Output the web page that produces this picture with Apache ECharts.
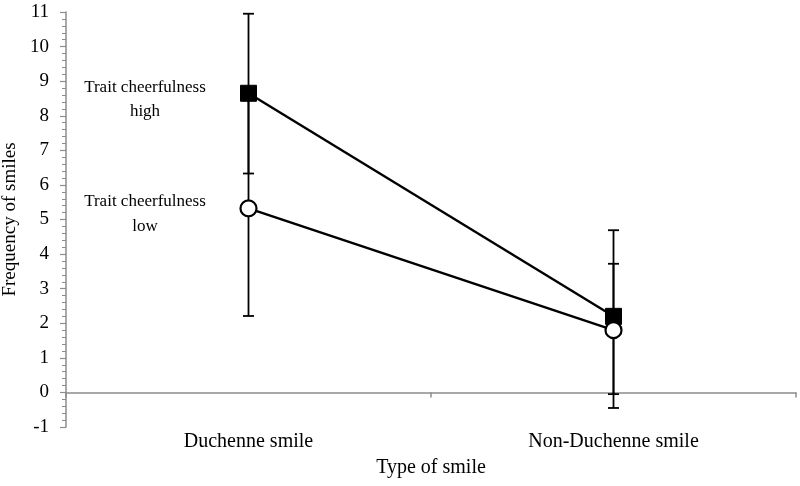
<!DOCTYPE html>
<html>
<head>
<meta charset="utf-8">
<script src="https://cdn.jsdelivr.net/npm/echarts@6/dist/echarts.min.js"></script>
<style>
  html, body { margin: 0; padding: 0; background: #fff; }
  #chart_container { width: 800px; height: 486px; }
</style>
</head>
<body>
<div id="chart_container"></div>
<script>
  // x categories
  var categories = ['Duchenne smile', 'Non-Duchenne smile']
  var yTicks = [-1, 11]
  // trait cheerfulness high
  var highMeans = [8.65, 2.2]
  var highUpper = [10.95, 4.69]
  var highLower = [6.33, -0.45]
  // trait cheerfulness low
  var lowMeans = [5.32, 1.8]
  var lowUpper = [8.45, 3.72]
  var lowLower = [2.21, -0.05]
  var labelHigh = 'Trait cheerfulness\nhigh'
  var labelLow = 'Trait cheerfulness\nlow'

  var serif = 'Liberation Serif'
  var gray = '#8c8c8c'

  function errData (lower, upper) {
    return categories.map(function (c, i) { return [i, lower[i], upper[i]] })
  }

  // vertical error bar with caps
  function renderErr (params, api) {
    var lo = api.coord([api.value(0), api.value(1)])
    var hi = api.coord([api.value(0), api.value(2)])
    var w = 5.5
    var st = { stroke: '#000', lineWidth: 1.8 }
    return {
      type: 'group',
      children: [
        { type: 'line', shape: { x1: hi[0], y1: hi[1], x2: lo[0], y2: lo[1] }, style: st },
        { type: 'line', shape: { x1: hi[0] - w, y1: hi[1], x2: hi[0] + w, y2: hi[1] }, style: st },
        { type: 'line', shape: { x1: lo[0] - w, y1: lo[1], x2: lo[0] + w, y2: lo[1] }, style: st }
      ]
    }
  }

  var chart = echarts.init(document.getElementById('chart_container'))
  chart.setOption({
    animation: false,
    grid: { left: 66, top: 12, width: 730, bottom: 59, containLabel: false, outerBoundsMode: 'none' },
    xAxis: [{
      type: 'category',
      data: categories,
      position: 'bottom',
      name: 'Type of smile',
      nameLocation: 'middle',
      nameGap: 31,
      nameTextStyle: { fontFamily: serif, fontSize: 20, color: '#000' },
      axisLine: { show: false, onZero: false },
      axisTick: { show: false },
      axisLabel: { fontFamily: serif, fontSize: 20, color: '#000', margin: 5 },
      splitLine: { show: false }
    }, {
      type: 'category',
      data: categories,
      position: 'bottom',
      axisLine: { show: true, onZero: true, onZeroAxisIndex: 0, lineStyle: { color: gray, width: 1.5 } },
      axisTick: { show: true, length: 5, lineStyle: { color: gray, width: 1.5 } },
      axisLabel: { show: false },
      splitLine: { show: false }
    }],
    yAxis: {
      type: 'value',
      min: yTicks[0],
      max: yTicks[1],
      interval: 1,
      name: 'Frequency of smiles',
      nameLocation: 'middle',
      nameGap: 41,
      nameTextStyle: { fontFamily: serif, fontSize: 19, color: '#000' },
      axisLine: { show: true, lineStyle: { color: gray, width: 1.5 } },
      axisTick: { show: true, length: 6, lineStyle: { color: gray, width: 1.2 } },
      minorTick: { show: true, splitNumber: 5, length: 4, lineStyle: { color: gray, width: 1 } },
      axisLabel: { fontFamily: serif, fontSize: 19, color: '#000', margin: 17 },
      splitLine: { show: false }
    },
    series: [{
      type: 'custom',
      name: 'err high',
      renderItem: renderErr,
      encode: { x: 0, y: [1, 2] },
      data: errData(highLower, highUpper),
      z: 1
    }, {
      type: 'custom',
      name: 'err low',
      renderItem: renderErr,
      encode: { x: 0, y: [1, 2] },
      data: errData(lowLower, lowUpper),
      z: 1
    }, {
      type: 'line',
      name: 'Trait cheerfulness high',
      data: highMeans,
      symbol: 'rect',
      symbolSize: 16,
      lineStyle: { color: '#000', width: 2.4 },
      itemStyle: { color: '#000', borderColor: '#000', borderWidth: 1 },
      z: 3
    }, {
      type: 'line',
      name: 'Trait cheerfulness low',
      data: lowMeans,
      symbol: 'circle',
      symbolSize: 16,
      lineStyle: { color: '#000', width: 2.4 },
      itemStyle: { color: '#fff', borderColor: '#000', borderWidth: 2.2 },
      z: 4
    }],
    graphic: [{
      type: 'text',
      x: 145,
      y: 76,
      style: { text: labelHigh, font: '17px "Liberation Serif"', fill: '#000', align: 'center', verticalAlign: 'top', lineHeight: 24 }
    }, {
      type: 'text',
      x: 145,
      y: 189,
      style: { text: labelLow, font: '17px "Liberation Serif"', fill: '#000', align: 'center', verticalAlign: 'top', lineHeight: 25 }
    }]
  })
</script>
</body>
</html>
